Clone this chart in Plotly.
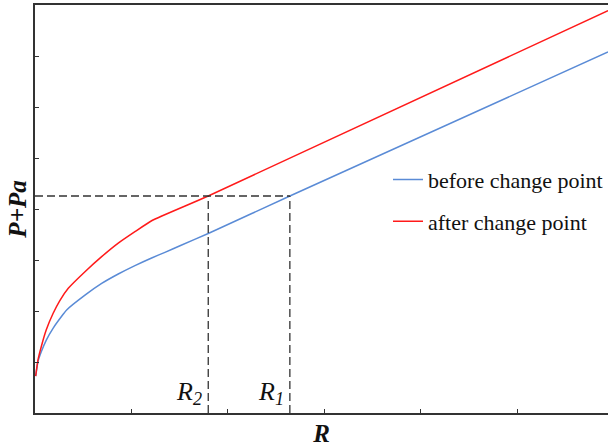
import plotly.graph_objects as go

# ---- data ----
before_x = [0.007, 0.031, 0.065, 0.117, 0.187, 0.290, 0.328, 0.518, 0.691, 0.863, 1.036, 1.209, 1.347, 1.503, 1.796, 2.642, 5.94]
before_y = [0.725, 1.01, 1.20, 1.43, 1.66, 1.93, 2.02, 2.31, 2.54, 2.725, 2.89, 3.04, 3.15, 3.28, 3.52, 4.255, 7.08]

after_x = [0.007, 0.031, 0.065, 0.117, 0.187, 0.256, 0.345, 0.518, 0.691, 0.863, 1.036, 1.209, 1.796, 5.94]
after_y = [0.725, 1.04, 1.30, 1.63, 1.95, 2.20, 2.445, 2.77, 3.065, 3.33, 3.555, 3.77, 4.255, 7.89]

R1 = 2.642
R2 = 1.796
P_level = 4.255

series_names = ["before change point", "after change point"]
series_colors = ["#5a8bd6", "#ff1a1a"]

X_MAX = 5.94
Y_MAX = 8

SERIF = "Liberation Serif, Times New Roman, serif"
AXIS_COLOR = "#333333"

fig = go.Figure()

fig.add_trace(go.Scatter(x=before_x, y=before_y, mode="lines", name=series_names[0],
                         legendgroup="a", line=dict(color=series_colors[0], width=1.5, shape="spline", smoothing=0.5)))
fig.add_trace(go.Scatter(x=after_x, y=after_y, mode="lines", name=series_names[1],
                         legendgroup="b", line=dict(color=series_colors[1], width=1.5, shape="spline", smoothing=0.5)))

dash_style = dict(color=AXIS_COLOR, width=1.3, dash="8px,4px")
fig.add_trace(go.Scatter(x=[0, R1], y=[P_level, P_level], mode="lines",
                         line=dash_style, showlegend=False, hoverinfo="skip"))
fig.add_trace(go.Scatter(x=[R2, R2], y=[0, P_level], mode="lines",
                         line=dash_style, showlegend=False, hoverinfo="skip"))
fig.add_trace(go.Scatter(x=[R1, R1], y=[0, P_level], mode="lines",
                         line=dash_style, showlegend=False, hoverinfo="skip"))

for label, xv in [("R<sub>2</sub>", R2), ("R<sub>1</sub>", R1)]:
    fig.add_annotation(x=xv, y=0, xref="x", yref="y", text="<i>" + label + "</i>",
                       showarrow=False, xanchor="right", yanchor="bottom",
                       xshift=-4, yshift=2,
                       font=dict(family=SERIF, size=26, color="#111111"))

fig.update_layout(
    width=608, height=447,
    margin=dict(l=35, r=0, t=5, b=34),
    paper_bgcolor="white", plot_bgcolor="white",
    font=dict(family=SERIF, color="#111111"),
    showlegend=True,
    legend=dict(x=1.0, y=0.623, xanchor="right", yanchor="top",
                bgcolor="rgba(0,0,0,0)", font=dict(family=SERIF, size=22, color="#111111"),
                tracegroupgap=10, traceorder="grouped"),
    xaxis=dict(range=[0, X_MAX], showgrid=False, zeroline=False,
               showline=True, linecolor=AXIS_COLOR, linewidth=1.5, mirror=True,
               ticks="inside", ticklen=4, tickcolor=AXIS_COLOR, tickwidth=1,
               dtick=1, tick0=0, showticklabels=False,
               title=dict(text="<b><i>R</i></b>", font=dict(family=SERIF, size=25), standoff=13),
               automargin=False),
    yaxis=dict(range=[0, Y_MAX], showgrid=False, zeroline=False,
               showline=True, linecolor=AXIS_COLOR, linewidth=1.5, mirror=False,
               ticks="inside", ticklen=4, tickcolor=AXIS_COLOR, tickwidth=1,
               dtick=1, tick0=0, showticklabels=False,
               title=dict(text="<b><i>P+Pa</i></b>", font=dict(family=SERIF, size=25), standoff=0),
               automargin=False),
)

fig.write_html("out.html", config={"displayModeBar": False},
               post_script="document.body.style.margin='0';document.body.style.overflow='hidden';"
                           "document.documentElement.style.overflow='hidden';")
